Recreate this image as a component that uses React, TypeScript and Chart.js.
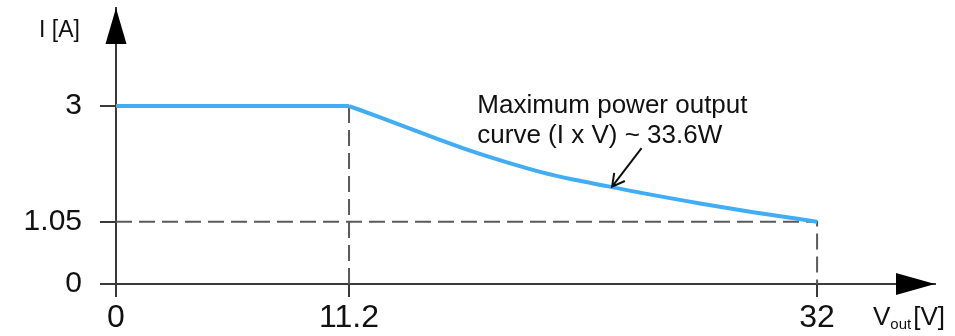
import React, { useEffect, useRef } from 'react';
import { Chart, registerables, LinearScale } from 'chart.js';

// ---- data ----
const flatVoltage = [0, 11.2];
const flatCurrent = [3, 3];
const curveVoltage = [11.2, 12.58, 13.91, 15.24, 16.71, 18.22, 19.69, 21.16, 22.67, 24.13, 26.93, 29.16, 32];
const curveCurrent = [3, 2.81, 2.62, 2.43, 2.23, 2.05, 1.89, 1.76, 1.65, 1.54, 1.35, 1.21, 1.05];
const kneeGuideVoltage = [11.2, 11.2];
const kneeGuideCurrent = [0, 3];
const endGuideVoltage = [0, 32, 32];
const endGuideCurrent = [1.05, 1.05, 0];
const xTickValues = [0, 11.2, 32];
const xTickLabels = ['0', '11.2', '32'];
const yTickValues = [0, 1.05, 3];
const yTickLabels = ['0', '1.05', '3'];
const annotationLines = ['Maximum power output', 'curve (I x V) ~ 33.6W'];
const yAxisTitle = 'I [A]';
const xAxisTitleMain = 'V';
const xAxisTitleSub = 'out';
const xAxisTitleUnit = '[V]';

// ---- schematic (not-to-scale) x axis: segment 0..11.2 drawn slightly compressed ----
const X_BREAK = 11.2;
const X_LEFT_RATIO = 0.9246;

class SchematicScale extends LinearScale {
  static id = 'schematic';
  warp(v: number) {
    return v <= X_BREAK ? v * X_LEFT_RATIO : X_BREAK * X_LEFT_RATIO + (v - X_BREAK);
  }
  unwarp(w: number) {
    const wb = X_BREAK * X_LEFT_RATIO;
    return w <= wb ? w / X_LEFT_RATIO : X_BREAK + (w - wb);
  }
  getPixelForValue(value: number) {
    const a = this.warp(this.min);
    const b = this.warp(this.max);
    return this.getPixelForDecimal((this.warp(value) - a) / (b - a));
  }
  getValueForPixel(pixel: number) {
    const a = this.warp(this.min);
    const b = this.warp(this.max);
    return this.unwarp(a + this.getDecimalForPixel(pixel) * (b - a));
  }
}

Chart.register(...registerables, SchematicScale);

const zip = (xs: number[], ys: number[]) => xs.map((x, i) => ({ x, y: ys[i] }));

const annotation = { textX: 16.9, textY: 2.88, lineGap: 30, tailX: 24.2, tailY: 2.29, headX: 22.89, headY: 1.64 };

const AXIS = '#3a3a3a';
const BLUE = '#41adf5';
const GUIDE = '#5a5a5a';
const SANS = '"Liberation Sans", Arial, sans-serif';

const overlayPlugin = {
  id: 'overlay',
  afterDraw(chart: any) {
    const { ctx, chartArea } = chart;
    const { left, right, top, bottom } = chartArea;
    const xs = chart.scales.x;
    const ys = chart.scales.y;
    ctx.save();
    // axis arrows
    ctx.fillStyle = '#000';
    ctx.beginPath();
    ctx.moveTo(right, bottom);
    ctx.lineTo(right - 39, bottom - 11);
    ctx.lineTo(right - 39, bottom + 11);
    ctx.closePath();
    ctx.fill();
    ctx.beginPath();
    ctx.moveTo(left, top);
    ctx.lineTo(left - 10.5, top + 36);
    ctx.lineTo(left + 10.5, top + 36);
    ctx.closePath();
    ctx.fill();

    ctx.fillStyle = '#111';
    ctx.textAlign = 'left';
    ctx.textBaseline = 'alphabetic';
    // y title
    ctx.font = '23px ' + SANS;
    ctx.fillText(yAxisTitle, left - 77, top + 29);
    // x title
    let tx = right - 62;
    const ty = bottom + 41;
    ctx.font = '26px ' + SANS;
    ctx.fillText(xAxisTitleMain, tx, ty);
    tx += ctx.measureText(xAxisTitleMain).width;
    ctx.font = '15px ' + SANS;
    ctx.fillText(xAxisTitleSub, tx, ty + 4);
    tx += ctx.measureText(xAxisTitleSub).width + 2;
    ctx.font = '26px ' + SANS;
    ctx.fillText(xAxisTitleUnit, tx, ty);

    // annotation text
    ctx.font = '26px ' + SANS;
    const ax = xs.getPixelForValue(annotation.textX);
    const ay = ys.getPixelForValue(annotation.textY);
    annotationLines.forEach((line, i) => ctx.fillText(line, ax, ay + i * annotation.lineGap));

    // annotation arrow
    const x1 = xs.getPixelForValue(annotation.tailX);
    const y1 = ys.getPixelForValue(annotation.tailY);
    const x2 = xs.getPixelForValue(annotation.headX);
    const y2 = ys.getPixelForValue(annotation.headY);
    ctx.strokeStyle = '#111';
    ctx.lineWidth = 2;
    ctx.beginPath();
    ctx.moveTo(x1, y1);
    ctx.lineTo(x2, y2);
    const ang = Math.atan2(y2 - y1, x2 - x1);
    const len = 14;
    ctx.moveTo(x2 - len * Math.cos(ang - 0.5), y2 - len * Math.sin(ang - 0.5));
    ctx.lineTo(x2, y2);
    ctx.lineTo(x2 - len * Math.cos(ang + 0.5), y2 - len * Math.sin(ang + 0.5));
    ctx.stroke();
    ctx.restore();
  },
};

export default function App() {
  const canvasRef = useRef<HTMLCanvasElement | null>(null);

  useEffect(() => {
    if (!canvasRef.current) return;
    const chart = new Chart(canvasRef.current, {
      type: 'line',
      data: {
        datasets: [
          {
            data: zip(curveVoltage, curveCurrent),
            borderColor: BLUE,
            borderWidth: 4,
            pointRadius: 0,
            cubicInterpolationMode: 'monotone',
            fill: false,
          },
          {
            data: zip(flatVoltage, flatCurrent),
            borderColor: BLUE,
            borderWidth: 4,
            pointRadius: 0,
            tension: 0,
            fill: false,
          },
          {
            data: zip(kneeGuideVoltage, kneeGuideCurrent),
            borderColor: GUIDE,
            borderWidth: 2,
            borderDash: [16, 7],
            pointRadius: 0,
            tension: 0,
            fill: false,
          },
          {
            data: zip(endGuideVoltage, endGuideCurrent),
            borderColor: GUIDE,
            borderWidth: 2,
            borderDash: [16, 7],
            pointRadius: 0,
            tension: 0,
            fill: false,
          },
        ],
      },
      options: {
        animation: false,
        responsive: true,
        maintainAspectRatio: false,
        events: [],
        layout: { padding: { top: 8, right: 20, left: 0, bottom: 0 } },
        plugins: { legend: { display: false }, tooltip: { enabled: false }, title: { display: false } },
        scales: {
          x: {
            type: 'schematic' as any,
            min: 0,
            max: 37.24,
            bounds: 'data',
            afterFit: (s: any) => { s.height = 52; s.paddingLeft = 0; s.paddingRight = 0; },
            afterBuildTicks: (s: any) => { s.ticks = xTickValues.map((value) => ({ value })); },
            grid: { display: true, drawOnChartArea: false, drawTicks: true, tickLength: 13, color: AXIS, lineWidth: 2 },
            border: { display: true, color: AXIS, width: 2 },
            ticks: {
              autoSkip: false,
              maxRotation: 0,
              padding: 2,
              color: '#111',
              font: { family: SANS, size: 32 },
              callback: (_v: any, i: number) => xTickLabels[i],
            },
          },
          y: {
            type: 'linear',
            min: 0,
            max: 4.652,
            bounds: 'data',
            afterFit: (s: any) => { s.width = 116; s.paddingTop = 0; s.paddingBottom = 0; },
            afterBuildTicks: (s: any) => { s.ticks = yTickValues.map((value) => ({ value })); },
            grid: { display: true, drawOnChartArea: false, drawTicks: true, tickLength: 16, color: AXIS, lineWidth: 2 },
            border: { display: true, color: AXIS, width: 2 },
            ticks: {
              autoSkip: false,
              padding: 18,
              color: '#111',
              font: { family: SANS, size: 30 },
              callback: (_v: any, i: number) => yTickLabels[i],
            },
          },
        },
      },
      plugins: [overlayPlugin],
    } as any);
    return () => chart.destroy();
  }, []);

  return (
    <div style={{ position: 'absolute', left: 0, top: 0, width: 955, height: 336, background: '#fff' }}>
      <canvas ref={canvasRef} />
    </div>
  );
}
